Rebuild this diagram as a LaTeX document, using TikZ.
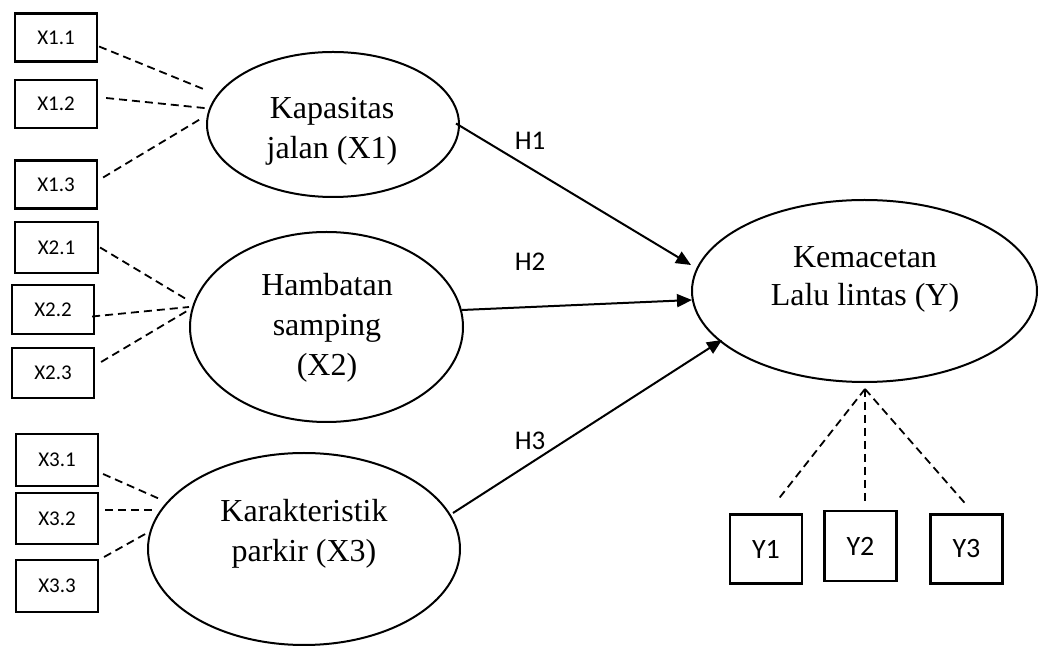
\documentclass[tikz,border=0pt]{standalone}
\usepackage{fontspec}
\setmainfont{Liberation Serif}
\newfontfamily\boxfont{Carlito}
\usetikzlibrary{shapes.geometric,arrows.meta}
\tikzset{
  ind/.style={draw,line width=1.1pt,rectangle,inner sep=0pt,font=\boxfont\fontsize{10.5}{12}\selectfont},
  yind/.style={draw,line width=1.1pt,rectangle,inner sep=0pt,minimum width=36pt,minimum height=34.5pt,font=\boxfont\fontsize{14}{16}\selectfont},
  lat/.style={draw,line width=1pt,ellipse,inner sep=0pt},
  ltxt/.style={align=center,font=\fontsize{16}{20}\selectfont},
  ytxt/.style={align=center,font=\fontsize{16}{19}\selectfont},
  dl/.style={dash pattern=on 4pt off 2.5pt,line width=0.9pt},
  arr/.style={line width=1pt,-{Triangle[length=7.5pt,width=6.5pt]}},
  hl/.style={font=\boxfont\fontsize{13.5}{15}\selectfont}
}
\begin{document}
\begin{tikzpicture}[x=0.5pt,y=-0.5pt]
\useasboundingbox (0,0) rectangle (1040,646);
% indicator boxes X1
\node[ind,minimum width=41pt,minimum height=24pt] (b11) at (56,37.5) {X1.1};
\node[ind,minimum width=41pt,minimum height=24pt] (b12) at (56,104) {X1.2};
\node[ind,minimum width=41pt,minimum height=24pt] (b13) at (56,184.5) {X1.3};
% X2
\node[ind,minimum width=41.5pt,minimum height=25.5pt] (b21) at (56.5,247.5) {X2.1};
\node[ind,minimum width=41pt,minimum height=24.5pt] (b22) at (53,309.5) {X2.2};
\node[ind,minimum width=41pt,minimum height=25pt] (b23) at (53,373) {X2.3};
% X3
\node[ind,minimum width=41pt,minimum height=26pt] (b31) at (57,460) {X3.1};
\node[ind,minimum width=41pt,minimum height=25.5pt] (b32) at (57,518.5) {X3.2};
\node[ind,minimum width=41pt,minimum height=26pt] (b33) at (57,586) {X3.3};
% latent ellipses
\node[lat,minimum width=126pt,minimum height=72.5pt] (e1) at (333,124.5) {};
\node[lat,minimum width=136.5pt,minimum height=95pt] (e2) at (326.5,327) {};
\node[lat,minimum width=156pt,minimum height=96pt] (e3) at (304,549) {};
\node[lat,minimum width=172.5pt,minimum height=91pt] (ey) at (864.5,291) {};
% texts
\node[ltxt] (t1) at (332,131) {Kapasitas\\jalan (X1)};
\node[ltxt] (t2) at (327,328) {Hambatan\\samping\\(X2)};
\node[ltxt] (t3) at (304,534) {Karakteristik\\parkir (X3)};
\node[ytxt] (ty) at (865,279) {Kemacetan\\Lalu lintas (Y)};
% Y indicators
\node[yind] (y1) at (766,549) {Y1};
\node[yind,minimum height=35pt] (y2) at (860.5,546) {Y2};
\node[yind] (y3) at (966.5,549) {Y3};
% labels
\node[hl] (h1) at (530,141) {H1};
\node[hl] (h2) at (530,262) {H2};
\node[hl] (h3) at (530,441) {H3};
% dashed loadings X1
\draw[dl] ([shift={(1,9)}]b11.east) -- ([shift={(1,-34)}]e1.west);
\draw[dl] ([shift={(8,-6)}]b12.east) -- ([shift={(3,-16)}]e1.west);
\draw[dl] ([shift={(5,-7)}]b13.east) -- ([shift={(-3,-7)}]e1.west);
% X2
\draw[dl] ([shift={(1,0)}]b21.east) -- ([shift={(-3,-28)}]e2.west);
\draw[dl] ([shift={(-3,7)}]b22.east) -- ([shift={(0,-20)}]e2.west);
\draw[dl] ([shift={(6,-11)}]b23.east) -- ([shift={(-2,-16)}]e2.west);
% X3
\draw[dl] ([shift={(4,14)}]b31.east) -- ([shift={(15,-49)}]e3.west);
\draw[dl] ([shift={(6,-8.5)}]b32.east) -- ([shift={(7,-39)}]e3.west);
\draw[dl] ([shift={(5,-29)}]b33.east) -- ([shift={(0,-16)}]e3.west);
% Y loadings
\coordinate (apex) at ([shift={(0.5,6)}]ey.south);
\draw[dl] (apex) -- ([shift={(13,-15)}]y1.north);
\draw[dl] (apex) -- ([shift={(4.5,-4)}]y2.north);
\draw[dl] (apex) -- ([shift={(-0.5,-9)}]y3.north);
% structural arrows
\draw[arr] ([shift={(-4,-1)}]e1.east) -- ([shift={(0,-26)}]ey.west);
\draw[arr] ([shift={(-2,-17)}]e2.east) -- ([shift={(1,9)}]ey.west);
\draw[arr] ([shift={(-8,-36)}]e3.east) -- ([shift={(31,49)}]ey.west);
\end{tikzpicture}
\end{document}
